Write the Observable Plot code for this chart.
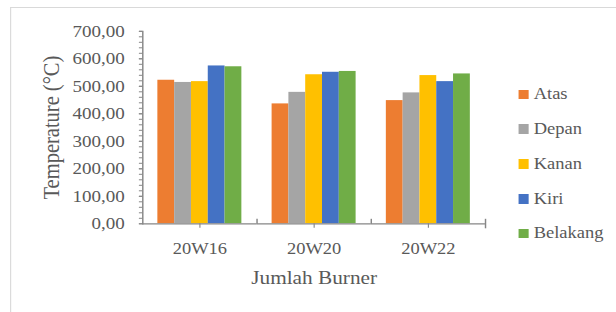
<!DOCTYPE html>
<html>
<head>
<meta charset="utf-8">
<script src="https://cdn.jsdelivr.net/npm/d3@7"></script>
<script src="https://cdn.jsdelivr.net/npm/@observablehq/plot@0.6"></script>
<style>
  html, body { margin: 0; padding: 0; background: #ffffff; }
  #wrap { position: relative; width: 550px; height: 312px; transform: scaleX(1.12); transform-origin: 0 0; font-family: "Liberation Serif", "Times New Roman", serif; color: #595959; }
  #border { position: absolute; left: 9px; top: 7px; right: -20px; bottom: -20px; border-left: 1px solid #d9d9d9; border-top: 1px solid #d9d9d9; }
  #chart { position: absolute; left: 0; top: 0; }
  #legend { position: absolute; left: 463px; top: 77px; }
  .item { display: flex; align-items: center; height: 34.8px; font-size: 16.5px; line-height: 1; }
  .sw { width: 9px; height: 9.5px; margin-right: 4.5px; }
</style>
</head>
<body>
<div id="wrap">
  <div id="border"></div>
  <div id="chart"></div>
  <div id="legend"></div>
</div>
<script>
// ---- data ----
const categories = ["20W16", "20W20", "20W22"];
const series = ["Atas", "Depan", "Kanan", "Kiri", "Belakang"];
const atas = [522, 436, 448];
const depan = [514, 478, 476];
const kanan = [517, 542, 539];
const kiri = [574, 551, 517];
const belakang = [571, 554, 545];
const colors = ["#ED7D31", "#A5A5A5", "#FFC000", "#4472C4", "#70AD47"];
const yTicks = [0, 100, 200, 300, 400, 500, 600, 700];
const yMinorTicks = d3.range(0, 701, 20);
const yTitle = "Temperature (°C)";
const xTitle = "Jumlah Burner";

const valuesBySeries = [atas, depan, kanan, kiri, belakang];
const table = [];
categories.forEach((c, i) => {
  series.forEach((s, j) => table.push({ burner: c, pos: s, temp: valuesBySeries[j][i] }));
});

const axisColor = "#868686";
const fmt = d => d.toFixed(2).replace(".", ",");

// short tick symbols drawn at frame anchors
const upTick = { draw(ctx) { ctx.moveTo(0, 0); ctx.lineTo(0, -5); } };
const bothTick = { draw(ctx) { ctx.moveTo(0, 4.5); ctx.lineTo(0, -5); } };

const chart = Plot.plot({
  width: 550,
  height: 312,
  marginLeft: 126.5,
  marginRight: 117,
  marginTop: 30.8,
  marginBottom: 88.7,
  style: { fontFamily: "Liberation Serif, Times New Roman, serif", color: "#595959", background: "transparent", overflow: "visible" },
  fx: { domain: categories, padding: 0 },
  x: { domain: series, paddingInner: 0, paddingOuter: 0.778, axis: null },
  y: { domain: [0, 700] },
  color: { domain: series, range: colors },
  marks: [
    Plot.barY(table, { fx: "burner", x: "pos", y: "temp", fill: "pos", inset: 0 }),
    Plot.ruleY([0], { stroke: axisColor, strokeWidth: 1.3 }),
    Plot.frame({ anchor: "left", facetAnchor: "left", stroke: axisColor, strokeWidth: 1.3 }),
    Plot.dot(categories.slice(0, -1), { fx: d => d, frameAnchor: "bottom-right", symbol: upTick, stroke: axisColor, fill: "none", strokeWidth: 1.3 }),
    Plot.dot(categories.slice(-1), { fx: d => d, frameAnchor: "bottom-right", symbol: bothTick, stroke: axisColor, fill: "none", strokeWidth: 1.3 }),
    Plot.axisY({ ticks: yMinorTicks, tickSize: 3, text: null, label: null, stroke: axisColor }),
    Plot.axisY({ ticks: yTicks, tickSize: 3, tickPadding: 13, tickFormat: fmt, fontSize: 17, label: null, stroke: axisColor }),
    Plot.text([categories[0]], { fx: d => d, text: () => yTitle, frameAnchor: "left", rotate: -90, dx: -81, textAnchor: "middle", fontSize: 20.5, fill: "#595959" }),
    Plot.axisFx({ anchor: "bottom", tickSize: 4.5, tickPadding: 14, fontSize: 16.5, label: null, stroke: axisColor }),
    Plot.axisFx({ anchor: "bottom", ticks: [], label: xTitle, labelAnchor: "center", labelOffset: 60, fontSize: 19 })
  ]
});
document.getElementById("chart").appendChild(chart);

// legend
const legend = document.getElementById("legend");
series.forEach((s, i) => {
  const item = document.createElement("div");
  item.className = "item";
  const sw = document.createElement("span");
  sw.className = "sw";
  sw.style.background = colors[i];
  const label = document.createElement("span");
  label.textContent = s;
  item.appendChild(sw);
  item.appendChild(label);
  legend.appendChild(item);
});
</script>
</body>
</html>
